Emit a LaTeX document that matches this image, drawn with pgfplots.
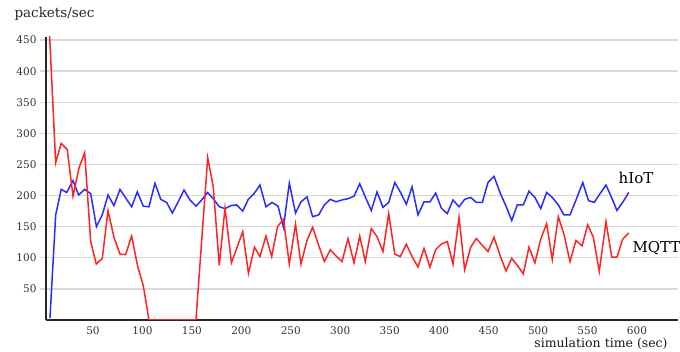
\documentclass[border=0pt]{standalone}
\usepackage{pgfplots}
\pgfplotsset{compat=1.18}
\usepackage{fontspec}
\setmainfont{DejaVu Serif}
\definecolor{hblue}{HTML}{2B2BFF}
\definecolor{mred}{HTML}{FF2424}
\definecolor{gridc}{HTML}{D9D9D9}
\definecolor{tickc}{HTML}{333333}
\begin{document}
\begin{tikzpicture}
\begin{axis}[
  at={(0pt,0pt)}, anchor=south west, scale only axis,
  width=632pt, height=283pt,
  xmin=2.5, xmax=641.5, ymin=0, ymax=455,
  axis x line*=bottom, axis y line*=left,
  xtick={50,100,...,600}, ytick={50,100,...,450},
  ymajorgrids, grid style={gridc, line width=1.4pt},
  axis line style={line width=1.8pt, color=black!85},
  major tick length=6pt, tick align=outside,
  xtick style={draw=none}, ytick style={gridc, line width=1.4pt},
  tick label style={font=\fontsize{10.5}{12}\selectfont, text=tickc},
  xticklabel style={yshift=3pt},
  /pgf/number format/assume math mode=true,
  clip=true,
]
\addplot[hblue, line width=1.5pt] coordinates {
(6.5,3) (12.3,169) (17.9,210) (23.4,205) (29.8,224) (35.5,201) (41.6,210) (47.7,203)
(53.5,150) (59.4,169) (65.2,201) (71.2,184) (77.3,210) (83.1,196) (89.1,182) (94.8,206)
(100.9,183) (106.6,182) (112.7,220) (118.5,194) (124.5,189) (130.2,172) (136.2,190) (142.0,209)
(148.1,193) (154.1,183) (159.9,193) (165.8,205) (171.6,195) (177.7,182) (183.5,179) (189.5,184)
(195.3,185) (201.4,175) (207.0,194) (212.8,203) (218.8,217) (224.9,182) (231.0,189) (237.1,183)
(242.6,149) (248.5,220) (254.8,172) (260.3,190) (266.4,198) (272.1,166) (278.2,169) (283.9,185)
(289.9,194) (295.7,190) (301.8,193) (307.8,195) (313.9,199) (319.7,219) (325.3,198) (331.4,176)
(337.2,206) (343.2,181) (349.0,189) (355.1,221) (360.7,206) (366.8,186) (372.6,214) (378.6,169)
(384.7,190) (390.7,190) (396.5,204) (402.2,180) (408.2,171) (414.0,193) (420.1,182) (425.8,194)
(431.9,197) (437.6,189) (443.6,189) (449.4,221) (455.5,231) (461.5,205) (467.6,183) (473.4,160)
(479.0,185) (485.1,185) (490.8,207) (496.9,197) (502.7,179) (508.7,205) (514.4,197) (520.5,185)
(526.2,169) (532.3,169) (538.4,193) (545.2,221) (551.0,192) (556.9,189) (562.6,203) (568.7,217)
(574.3,197) (579.8,176) (585.9,190) (591.7,205)
};
\addplot[mred, line width=1.5pt] coordinates {
(6.0,462) (12.3,253) (17.9,284) (24.0,274) (29.8,199) (35.8,244) (41.6,269) (47.7,126)
(53.3,90) (59.4,99) (65.2,176) (71.2,133) (77.3,106) (82.9,105) (89.1,135) (95.2,86)
(100.9,55) (106.6,0) (154.1,0) (166.0,261) (171.6,214) (177.7,88) (183.5,180) (190.0,92)
(195.3,115) (201.4,142) (207.2,75) (213.3,117) (218.8,102) (224.9,135) (230.7,102) (236.6,150)
(242.6,162) (248.5,90) (254.8,154) (260.3,90) (266.4,128) (272.1,149) (278.0,121) (283.9,94)
(289.9,113) (295.7,103) (301.8,94) (307.8,131) (313.9,92) (319.7,135) (325.3,94) (331.4,147)
(337.2,134) (343.2,110) (349.0,171) (355.1,106) (360.7,102) (366.8,122) (372.6,102) (378.6,85)
(384.7,115) (390.7,85) (396.5,113) (402.2,122) (408.2,126) (414.0,90) (420.1,165) (425.8,81)
(431.9,117) (437.6,131) (443.6,120) (449.4,110) (455.5,133) (461.5,104) (467.6,79) (473.4,99)
(479.0,88) (485.1,74) (490.8,117) (496.9,92) (502.7,130) (508.7,155) (514.4,97) (520.5,166)
(526.2,138) (532.3,94) (538.4,128) (544.5,119) (550.2,153) (555.9,133) (561.9,78) (568.7,158)
(574.5,101) (579.8,101) (585.6,130) (591.7,140)
};
\end{axis}
\node[anchor=west, font=\fontsize{13.5}{16}\selectfont, text=black!85] at (-35pt,306pt) {packets/sec};
\node[font=\fontsize{12.5}{15}\selectfont, text=black!90] at (555pt,-24pt) {simulation time (sec)};
\node[font=\fontsize{15}{17}\selectfont] at (590pt,142pt) {hIoT};
\node[anchor=west, font=\fontsize{15}{17}\selectfont] at (583pt,72pt) {MQTT};
\pgfresetboundingbox
\useasboundingbox (-46pt,-32pt) rectangle (634pt,320pt);
\end{tikzpicture}
\end{document}
